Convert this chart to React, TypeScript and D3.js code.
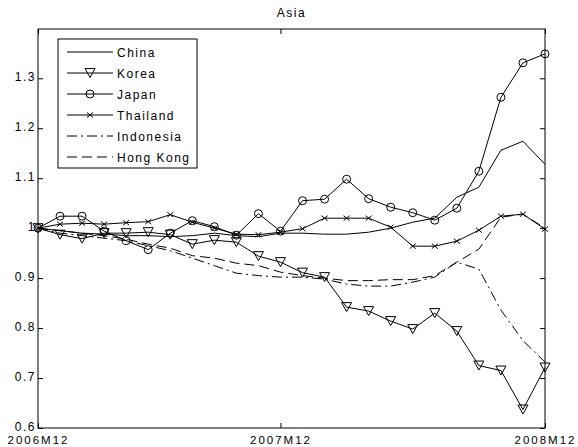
import React, { useRef, useEffect } from 'react';
import * as d3 from 'd3';

// Asia: index values relative to 2006M12 (24 observations)
const china = [1.0, 0.995, 0.99, 0.988, 0.985, 0.985, 0.983, 0.985, 0.99, 0.985, 0.983, 0.99, 0.99, 0.988, 0.988, 0.992, 1.0, 1.012, 1.02, 1.062, 1.082, 1.156, 1.174, 1.128];
const korea = [1.0, 0.987, 0.979, 0.99, 0.99, 0.992, 0.987, 0.968, 0.976, 0.972, 0.944, 0.932, 0.911, 0.902, 0.842, 0.834, 0.814, 0.798, 0.83, 0.794, 0.725, 0.715, 0.637, 0.721];
const japan = [1.0, 1.024, 1.024, 0.994, 0.975, 0.957, 0.99, 1.015, 1.003, 0.986, 1.029, 0.994, 1.055, 1.058, 1.098, 1.059, 1.042, 1.031, 1.016, 1.04, 1.114, 1.262, 1.331, 1.349];
const thailand = [1.0, 1.008, 1.01, 1.008, 1.011, 1.013, 1.027, 1.012, 1.0, 0.988, 0.987, 0.992, 0.999, 1.02, 1.02, 1.02, 1.002, 0.964, 0.964, 0.974, 0.996, 1.024, 1.028, 0.998];
const indonesia = [1.0, 0.99, 0.985, 0.98, 0.975, 0.965, 0.955, 0.94, 0.925, 0.91, 0.905, 0.902, 0.902, 0.898, 0.888, 0.884, 0.884, 0.892, 0.902, 0.932, 0.918, 0.836, 0.775, 0.732];
const hongKong = [1.0, 0.995, 0.99, 0.985, 0.978, 0.968, 0.96, 0.945, 0.94, 0.93, 0.925, 0.912, 0.905, 0.9, 0.895, 0.895, 0.897, 0.897, 0.905, 0.932, 0.958, 1.022, 1.028, 1.0];

const seriesNames = ['China', 'Korea', 'Japan', 'Thailand', 'Indonesia', 'Hong Kong'];
const seriesValues = [china, korea, japan, thailand, indonesia, hongKong];
const seriesMarkers = ['none', 'triangle', 'circle', 'cross', 'none', 'none'];
const seriesDash = ['', '', '', '', '10,4,2,4', '10,5'];

const yTicks = [0.6, 0.7, 0.8, 0.9, 1.0, 1.1, 1.2, 1.3];
const yTickLabels = ['0.6', '0.7', '0.8', '0.9', '1', '1.1', '1.2', '1.3'];
const xTickIndex = [0, 11, 23];
const xTickLabels = ['2006M12', '2007M12', '2008M12'];

const WIDTH = 578;
const HEIGHT = 447;
const FONT = '"Liberation Sans", Arial, Helvetica, sans-serif';

const App = () => {
  const svgRef = useRef<SVGSVGElement | null>(null);

  useEffect(() => {
    if (!svgRef.current) return;
    const svg = d3.select(svgRef.current);
    svg.selectAll('*').remove();

    const margin = { top: 29, right: 33, bottom: 19, left: 38 };
    const x0 = margin.left;
    const x1 = WIDTH - margin.right;
    const y0 = margin.top;
    const y1 = HEIGHT - margin.bottom;

    const x = d3.scaleLinear().domain([0, china.length - 1]).range([x0, x1]);
    const y = d3.scaleLinear().domain([0.6, 1.3987]).range([y1, y0]);

    svg.append('rect')
      .attr('width', WIDTH)
      .attr('height', HEIGHT)
      .attr('fill', '#fff');

    // Axes box
    svg.append('rect')
      .attr('x', x0)
      .attr('y', y0)
      .attr('width', x1 - x0)
      .attr('height', y1 - y0)
      .attr('fill', 'none')
      .attr('stroke', '#000')
      .attr('stroke-width', 1);

    const styleAxis = (g: any) => {
      g.select('.domain').remove();
      g.selectAll('.tick line').attr('stroke', '#000');
      g.selectAll('text')
        .attr('fill', '#000')
        .style('font-family', FONT)
        .style('font-size', '12px')
        .style('letter-spacing', '1.5px');
    };

    // Left / right y axes (ticks point inwards)
    svg.append('g')
      .attr('transform', `translate(${x0},0)`)
      .call(
        d3.axisLeft(y)
          .tickValues(yTicks)
          .tickSize(-5)
          .tickPadding(2)
          .tickFormat((d: any, i: number) => yTickLabels[i])
      )
      .call(styleAxis)
      .selectAll('text')
      .attr('dy', '0.22em');

    svg.append('g')
      .attr('transform', `translate(${x1},0)`)
      .call(d3.axisRight(y).tickValues(yTicks).tickSize(-5).tickFormat(() => ''))
      .call(styleAxis);

    // Bottom / top x axes
    svg.append('g')
      .attr('transform', `translate(0,${y1})`)
      .call(
        d3.axisBottom(x)
          .tickValues(xTickIndex)
          .tickSize(-5)
          .tickPadding(7.5)
          .tickFormat((d: any, i: number) => xTickLabels[i])
      )
      .call(styleAxis)
      .selectAll('text')
      .style('font-size', '11.5px')
      .style('letter-spacing', '2px');

    svg.append('g')
      .attr('transform', `translate(0,${y0})`)
      .call(d3.axisTop(x).tickValues(xTickIndex).tickSize(-5).tickFormat(() => ''))
      .call(styleAxis);

    // Title
    svg.append('text')
      .attr('x', (x0 + x1) / 2)
      .attr('y', 17)
      .attr('text-anchor', 'middle')
      .attr('fill', '#000')
      .style('font-family', FONT)
      .style('font-size', '12px')
      .style('letter-spacing', '1.5px')
      .text('Asia');

    const drawMarker = (g: any, type: string, cx: number, cy: number) => {
      if (type === 'circle') {
        g.append('circle')
          .attr('cx', cx).attr('cy', cy).attr('r', 4)
          .attr('fill', 'none').attr('stroke', '#000').attr('stroke-width', 1);
      } else if (type === 'triangle') {
        g.append('path')
          .attr('d', `M${cx - 5},${cy - 4.5}L${cx + 5},${cy - 4.5}L${cx},${cy + 4.5}Z`)
          .attr('fill', 'none').attr('stroke', '#000').attr('stroke-width', 1);
      } else if (type === 'cross') {
        g.append('path')
          .attr('d', `M${cx - 3},${cy - 2.5}L${cx + 3},${cy + 2.5}M${cx - 3},${cy + 2.5}L${cx + 3},${cy - 2.5}`)
          .attr('fill', 'none').attr('stroke', '#000').attr('stroke-width', 1);
      }
    };

    const line = d3.line<number>()
      .x((d, i) => x(i))
      .y((d) => y(d));

    const plot = svg.append('g');
    seriesValues.forEach((values, s) => {
      plot.append('path')
        .datum(values)
        .attr('d', line)
        .attr('fill', 'none')
        .attr('stroke', '#000')
        .attr('stroke-width', 1)
        .attr('stroke-dasharray', seriesDash[s] || null);
      if (seriesMarkers[s] !== 'none') {
        values.forEach((v, i) => drawMarker(plot, seriesMarkers[s], x(i), y(v)));
      }
    });

    // Legend
    const legend = svg.append('g');
    legend.append('rect')
      .attr('x', 58)
      .attr('y', 39)
      .attr('width', 139)
      .attr('height', 129)
      .attr('fill', '#fff')
      .attr('stroke', '#000')
      .attr('stroke-width', 1);

    seriesNames.forEach((name, s) => {
      const ry = 52 + s * 21;
      legend.append('line')
        .attr('x1', 67).attr('x2', 113)
        .attr('y1', ry).attr('y2', ry)
        .attr('stroke', '#000')
        .attr('stroke-width', 1)
        .attr('stroke-dasharray', seriesDash[s] || null);
      if (seriesMarkers[s] !== 'none') drawMarker(legend, seriesMarkers[s], 90, ry);
      legend.append('text')
        .attr('x', 117)
        .attr('y', ry + 4.5)
        .attr('fill', '#000')
        .style('font-family', FONT)
        .style('font-size', '12px')
        .style('letter-spacing', '1.5px')
        .text(name);
    });

    return () => {
      svg.selectAll('*').remove();
    };
  }, []);

  return (
    <svg
      ref={svgRef}
      width={WIDTH}
      height={HEIGHT}
      viewBox={`0 0 ${WIDTH} ${HEIGHT}`}
      style={{ position: 'absolute', left: 0, top: 0, display: 'block' }}
    />
  );
};

export default App;
